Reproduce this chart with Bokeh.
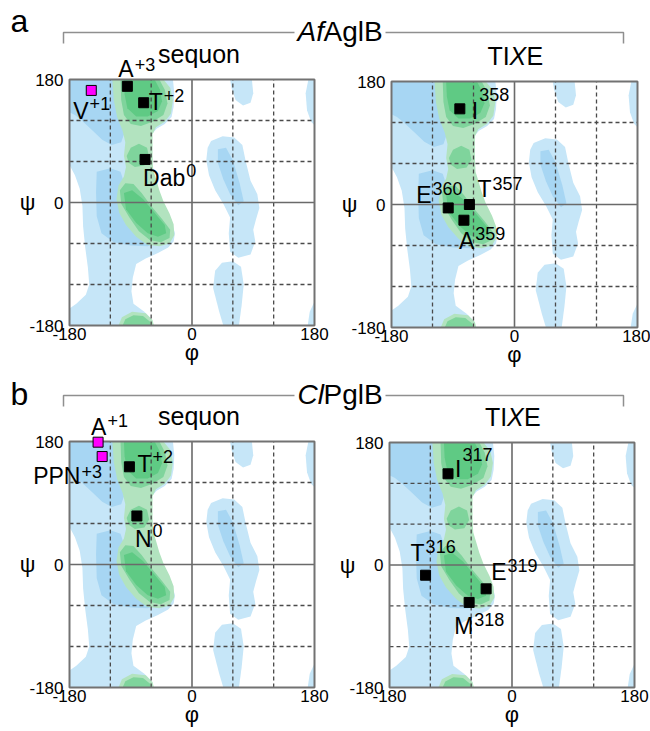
from bokeh.plotting import figure
from bokeh.models import Label, FixedTicker, Range1d, LinearAxis
from bokeh.embed import file_html
from bokeh.resources import INLINE

# ---------------- data ----------------
LIM = [-180, 180]
TICKS = [-180, 0, 180]
TICK_LABELS = ["-180", "0", "180"]
DASHED = [-120, -60, 60, 120]
ZERO = [0]

# Ramachandran background regions: (phi, psi) vertices
OUTER_BLUE = [
    [(-180,180),(-28,180),(-26,160),(-27,140),(-30,125),(-40,115),(-52,108),(-59,100),(-59,75),(-59,50),
     (-56,40),(-51,25),(-46,5),(-38,-12),(-30,-28),(-25,-45),(-27,-57),(-35,-66),(-50,-74),(-68,-82),
     (-82,-90),(-87,-110),(-89,-130),(-86,-148),(-70,-160),(-60,-170),(-58,-180),(-180,-180),(-180,-155),
     (-170,-148),(-156,-135),(-151,-120),(-153,-95),(-157,-65),(-160,-35),(-161,-5),(-165,20),(-172,40),(-180,55)],
    [(56,180),(88,180),(90,160),(86,146),(75,142),(64,150),(58,168)],
    [(28,90),(45,97),(62,95),(74,84),(79,60),(86,32),(96,12),(99,-8),(94,-25),(90,-40),(93,-57),(86,-76),
     (68,-81),(56,-72),(54,-45),(56,-22),(46,-2),(34,18),(25,40),(21,62),(23,80)],
    [(34,-100),(44,-88),(60,-86),(72,-94),(76,-120),(73,-150),(69,-180),(46,-180),(40,-160),(31,-125)],
    [(180,180),(171,180),(167,160),(169,135),(175,118),(180,113)],
    [(180,-145),(173,-160),(170,-180),(180,-180)],
]
INNER_BLUE = [
    [(-180,180),(-106,180),(-104,150),(-101,120),(-100,100),(-104,88),(-118,84),(-132,92),(-147,106),
     (-162,120),(-172,128),(-180,132)],
    [(-140,45),(-120,50),(-105,45),(-100,30),(-100,10),(-85,-10),(-65,-35),(-50,-58),(-65,-64),(-90,-63),
     (-115,-58),(-133,-45),(-140,-20),(-141,15)],
    [(38,78),(50,80),(60,62),(70,28),(76,2),(68,-4),(56,12),(46,34),(38,58)],
]
LIGHT_GREEN = [
    [(-117,180),(-42,180),(-32,168),(-28,150),(-31,130),(-40,118),(-53,110),(-58,100),(-58,70),(-57,48),
     (-53,35),(-48,18),(-42,2),(-33,-16),(-27,-32),(-26,-48),(-33,-60),(-48,-64),(-66,-62),(-82,-50),
     (-97,-33),(-107,-15),(-111,5),(-108,25),(-100,38),(-97,52),(-100,68),(-98,88),(-102,105),(-110,125),
     (-115,150)],
    [(-108,-180),(-103,-168),(-88,-160),(-68,-162),(-58,-172),(-56,-180)],
]
GREEN = [
    [(-105,180),(-48,180),(-40,165),(-36,145),(-42,128),(-58,118),(-75,112),(-90,115),(-100,128),(-104,150)],
    [(-96,68),(-90,80),(-78,86),(-66,80),(-63,66),(-70,54),(-84,52),(-93,58)],
    [(-106,18),(-98,28),(-86,27),(-74,14),(-60,-5),(-44,-24),(-32,-40),(-33,-52),(-46,-58),(-62,-55),
     (-78,-42),(-92,-22),(-104,-2)],
    [(-102,-180),(-98,-171),(-86,-165),(-72,-166),(-62,-174),(-60,-180)],
]
DARK_GREEN = [
    [(-100,180),(-55,180),(-47,165),(-44,148),(-50,134),(-65,126),(-82,126),(-95,138),(-99,158)],
    [(-100,14),(-88,18),(-72,5),(-55,-15),(-40,-33),(-38,-45),(-50,-50),(-65,-45),(-82,-30),(-97,-10)],
]

# AfAglB sequon
A_SEQ_RES = ["V", "A", "T", "Dab"]
A_SEQ_POS = ["+1", "+3", "+2", "0"]
A_SEQ_PHI = [-148, -95, -71, -69]
A_SEQ_PSI = [164, 170, 146, 63]
A_SEQ_HL = [True, False, False, False]
# AfAglB TIXE
A_TIXE_RES = ["T", "I", "A", "E"]
A_TIXE_POS = ["357", "358", "359", "360"]
A_TIXE_PHI = [-66, -80, -74, -97]
A_TIXE_PSI = [0, 140, -23, -5]
A_TIXE_HL = [False, False, False, False]
# ClPglB sequon
B_SEQ_RES = ["A", "PPN", "T", "N"]
B_SEQ_POS = ["+1", "+3", "+2", "0"]
B_SEQ_PHI = [-138, -132, -92, -81]
B_SEQ_PSI = [179, 158, 143, 71]
B_SEQ_HL = [True, True, False, False]
# ClPglB TIXE
B_TIXE_RES = ["T", "I", "M", "E"]
B_TIXE_POS = ["316", "317", "318", "319"]
B_TIXE_PHI = [-127, -94, -63, -38]
B_TIXE_PSI = [-15, 134, -55, -35]
B_TIXE_HL = [False, False, False, False]

# ---------------- style / layout ----------------
FONT = "Liberation Sans"
COLORS = {"ob": "#c6e6f8", "ib": "#a7d6f3", "lg": "#b2e3bf", "g": "#7fd49c", "dg": "#5fca84"}
W, H = 650, 731
BASE_PX, SUP_PX = 23, 18
MID = 0.36  # baseline -> middle shift (fraction of font size)
CHAR_W = {"V": .667, "A": .667, "T": .611, "D": .722, "a": .556, "b": .556, "I": .278,
          "E": .667, "P": .667, "N": .722, "M": .833}

# label offsets in px: (dx, dy_baseline, sup_dy_baseline)
A_SEQ_OFF = [(-18, -29, -20), (-9, 9, 15), (5, -8, 1), (-2, -27, -18)]
A_TIXE_OFF = [(8, 7, 15), (12, -10, 8), (-5, -29, -20), (-32, 5, 13)]
B_SEQ_OFF = [(-7, 7, 15), (-69, -28, -21), (8, -5, 4), (-2, -31, -21)]
B_TIXE_OFF = [(-15, 14, 22), (7, -3, 13), (-15, -32, -24), (5, 9, 17)]

p = figure(width=W, height=H, x_range=Range1d(0, W), y_range=Range1d(0, H), min_border=0,
           x_axis_location=None, y_axis_location=None, toolbar_location=None, output_backend="svg")
p.outline_line_color = None
p.grid.visible = False
p.background_fill_color = "white"


def py(y_img):
    return H - y_img


def text(x, y, txt, size, dx=0, dy=0, italic=False, **kw):
    # dy is the baseline offset (up positive); text is anchored at its middle
    p.add_layout(Label(x=x, y=y, x_offset=dx, y_offset=dy + MID * size, text=txt, text_font=FONT,
                       text_font_size=f"{size}px", text_baseline="middle", text_align="left",
                       text_font_style="italic" if italic else "normal", text_color="black", **kw))


def panel(name, box, res, pos, phi, psi, hl, offs, subtitle):
    L, R, T, B = box
    s = 360.0 / (R - L)
    x0 = -180 - L * s
    t = 360.0 / (B - T)
    y0 = -180 - (H - B) * t
    p.extra_x_ranges[name] = Range1d(x0, x0 + W * s)
    p.extra_y_ranges[name] = Range1d(y0, y0 + H * t)
    kw = dict(x_range_name=name, y_range_name=name)

    for polys, key in ((OUTER_BLUE, "ob"), (INNER_BLUE, "ib"), (LIGHT_GREEN, "lg"), (GREEN, "g"), (DARK_GREEN, "dg")):
        p.patches(xs=[[v[0] for v in poly] for poly in polys], ys=[[v[1] for v in poly] for poly in polys],
                  fill_color=COLORS[key], line_color=None, **kw)
    # dashed grid
    p.segment(x0=DASHED, x1=DASHED, y0=[LIM[0]] * len(DASHED), y1=[LIM[1]] * len(DASHED),
              line_color="#4a4a4a", line_dash="4 3", line_width=1.3, **kw)
    p.segment(x0=[LIM[0]] * len(DASHED), x1=[LIM[1]] * len(DASHED), y0=DASHED, y1=DASHED,
              line_color="#4a4a4a", line_dash="4 3", line_width=1.3, **kw)
    # zero lines
    p.segment(x0=ZERO + [LIM[0]], x1=ZERO + [LIM[1]], y0=[LIM[0]] + ZERO, y1=[LIM[1]] + ZERO,
              line_color="#6a6a6a", line_width=1.6, **kw)
    # frame
    p.quad(left=[LIM[0]], right=[LIM[1]], bottom=[LIM[0]], top=[LIM[1]], fill_color=None,
           line_color="#727272", line_width=2, **kw)

    overrides = dict(zip(TICKS, TICK_LABELS))
    xa = LinearAxis(fixed_location=LIM[0], bounds=tuple(LIM), ticker=FixedTicker(ticks=TICKS),
                    axis_label="φ", major_label_overrides=overrides, **kw)
    ya = LinearAxis(fixed_location=LIM[0], bounds=tuple(LIM), ticker=FixedTicker(ticks=TICKS),
                    axis_label="ψ", axis_label_orientation="horizontal", major_label_overrides=overrides, **kw)
    for ax in (xa, ya):
        ax.major_tick_line_color = None
        ax.minor_tick_line_color = None
        ax.major_tick_out = 0
        ax.major_tick_in = 0
        ax.minor_tick_out = 0
        ax.minor_tick_in = 0
        ax.axis_line_color = None
        ax.major_label_text_font = FONT
        ax.major_label_text_font_size = "17px"
        ax.major_label_text_color = "black"
        ax.axis_label_text_font = FONT
        ax.axis_label_text_font_size = "22px"
        ax.axis_label_text_font_style = "normal"
        ax.axis_label_text_color = "black"
    xa.major_label_standoff = 2
    xa.axis_label_standoff = -3
    ya.major_label_standoff = 6
    ya.axis_label_standoff = -9
    p.add_layout(xa, "below")
    p.add_layout(ya, "left")

    colors = ["#ff00ff" if h else "black" for h in hl]
    p.scatter(phi, psi, marker="square", size=10, fill_color=colors, line_color="black", line_width=1, **kw)

    for r, sp, x, y, (dx, dy, sdy) in zip(res, pos, phi, psi, offs):
        text(x, y, r, BASE_PX, dx, dy, **kw)
        sdx = dx + sum(CHAR_W[c] for c in r) * BASE_PX + 1
        text(x, y, sp, SUP_PX, sdx, sdy, **kw)
    for txt, ital, off, dy in subtitle:
        text(0, LIM[1], txt, 25, off, dy, italic=ital, **kw)


def header(letter, ital, rest, line_y, title_base, letter_base):
    ly = py(line_y)
    tick_end = py(line_y + 11)
    x_start, x_end = 63, 623
    t0 = 297
    w_ital = 26
    w_rest = 59
    p.multi_line(xs=[[x_start, x_start, t0 - 3], [t0 + w_ital + w_rest + 3, x_end, x_end]],
                 ys=[[tick_end, ly, ly], [ly, ly, tick_end]], line_color="#8f8f8f", line_width=1.5)
    text(10, py(letter_base), letter, 32)
    text(t0, py(title_base), ital, 28, italic=True)
    text(t0 + w_ital, py(title_base), rest, 28)


SEQ = [("sequon", False, -34, 17)]
TIXE = [("TI", False, -27, 17), ("X", True, -5, 17), ("E", False, 12, 17)]

header("a", "Af", "AglB", 32, 41, 32)
panel("a1", (69, 314, 79, 325), A_SEQ_RES, A_SEQ_POS, A_SEQ_PHI, A_SEQ_PSI, A_SEQ_HL, A_SEQ_OFF, SEQ)
panel("a2", (391, 637, 81, 327), A_TIXE_RES, A_TIXE_POS, A_TIXE_PHI, A_TIXE_PSI, A_TIXE_HL, A_TIXE_OFF, TIXE)
header("b", "Cl", "PglB", 395, 404, 405)
panel("b1", (69, 314, 441, 687), B_SEQ_RES, B_SEQ_POS, B_SEQ_PHI, B_SEQ_PSI, B_SEQ_HL, B_SEQ_OFF, SEQ)
panel("b2", (389, 634, 442, 687), B_TIXE_RES, B_TIXE_POS, B_TIXE_PHI, B_TIXE_PSI, B_TIXE_HL, B_TIXE_OFF, TIXE)

open("out.html", "w").write(file_html(p, INLINE))
